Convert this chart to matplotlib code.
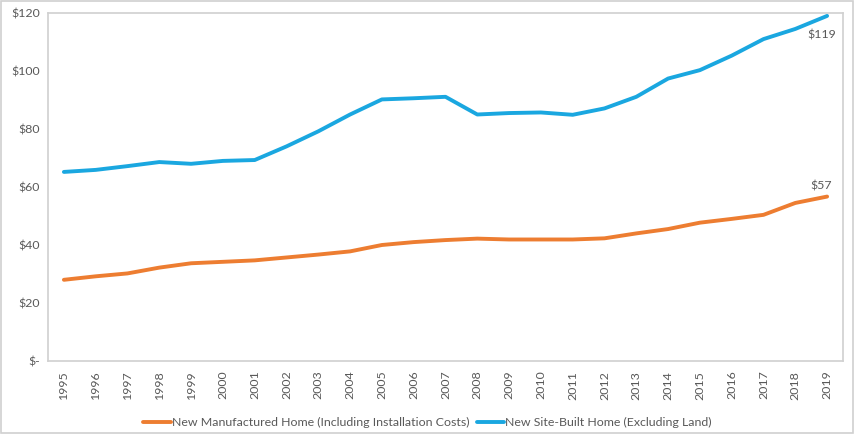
import matplotlib
matplotlib.use("Agg")
import matplotlib.pyplot as plt
from matplotlib.patches import Rectangle

years = [str(y) for y in range(1995, 2020)]
manufactured = [28.0, 29.2, 30.2, 32.2, 33.7, 34.2, 34.7, 35.7, 36.7, 37.8, 40.0, 41.0,
                41.7, 42.2, 41.9, 41.9, 41.9, 42.3, 44.0, 45.5, 47.7, 49.0, 50.4, 54.5, 56.7]
site_built = [65.2, 65.9, 67.2, 68.6, 68.0, 69.0, 69.3, 74.0, 79.2, 85.0, 90.2, 90.6,
              91.1, 85.0, 85.5, 85.7, 84.9, 87.1, 91.1, 97.4, 100.3, 105.3, 111.0, 114.5, 119.0]
yticks = [0, 20, 40, 60, 80, 100, 120]
ytick_labels = ["$-", "$20", "$40", "$60", "$80", "$100", "$120"]

plt.rcParams['font.family'] = ['Lato', 'DejaVu Sans']
gray = "#595959"
fs = 8.9

fig = plt.figure(figsize=(8.55, 4.34), dpi=100)
ax = fig.add_axes([48/855, 1 - 361/434, 795/855, 348/434])

x = list(range(len(years)))
ax.plot(x, manufactured, color="#ED7D31", lw=2.8, solid_capstyle="round",
        label="New Manufactured Home (Including Installation Costs)")
ax.plot(x, site_built, color="#1AA7E0", lw=2.8, solid_capstyle="round",
        label="New Site-Built Home (Excluding Land)")

ax.annotate("$%d" % round(site_built[-1]), (x[-1], site_built[-1]), xytext=(-4, -16),
            textcoords="offset points", ha="center", fontsize=fs, color=gray)
ax.annotate("$%d" % round(manufactured[-1]), (x[-1], manufactured[-1]), xytext=(-4, 5),
            textcoords="offset points", ha="center", fontsize=fs, color=gray)

ax.set_xlim(-0.5, len(years) - 0.5)
ax.set_ylim(0, 120)
ax.set_xticks(x)
ax.set_xticklabels(years, rotation=90, fontsize=fs, color=gray)
ax.set_yticks(yticks)
ax.set_yticklabels(ytick_labels, fontsize=fs, color=gray)
ax.tick_params(length=0, pad=7)
ax.tick_params(axis="y", pad=6)
for s in ax.spines.values():
    s.set_color("#d0d0d0")
    s.set_linewidth(1.2)

fig.legend(loc="lower center", bbox_to_anchor=(0.5, -0.012), ncol=2, frameon=False,
           fontsize=fs, labelcolor=gray, handlelength=2.2, handletextpad=0.1,
           columnspacing=0.6)

fig.patches.append(Rectangle((0.001, 0.002), 0.997, 0.995, transform=fig.transFigure,
                             fill=False, edgecolor="#d0d0d0", lw=1.2))

fig.savefig("out.png", dpi=100)
